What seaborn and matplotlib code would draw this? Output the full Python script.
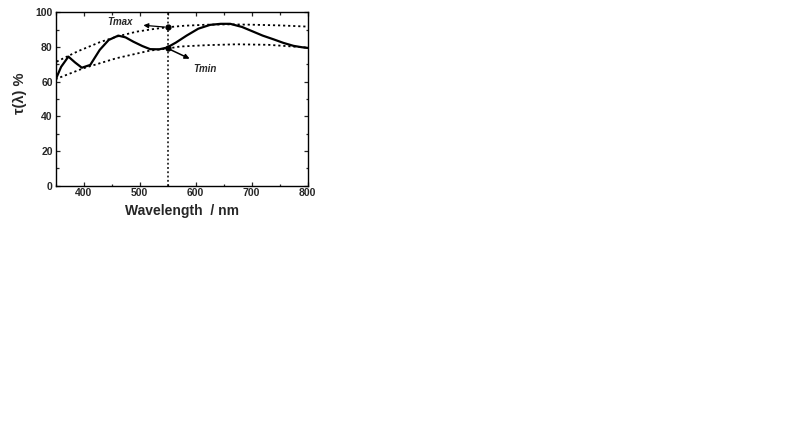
import pandas as pd
import seaborn as sns
import matplotlib
matplotlib.use("Agg")
import matplotlib.pyplot as plt
from matplotlib.ticker import MultipleLocator

sns.set_style("ticks")
plt.rcParams['font.family'] = ['Liberation Sans', 'DejaVu Sans']
plt.rcParams['font.weight'] = 'bold'

# measured transmission spectrum
wl = [350, 360, 373, 385, 397, 412, 429, 445, 462, 475, 489, 505, 519, 535, 549,
      565, 584, 605, 626, 645, 662, 683, 703, 720, 739, 757, 775, 790, 800]
tau = [61.0, 68.5, 74.4, 71.0, 68.0, 69.6, 78.3, 84.0, 86.5, 85.5, 83.0, 80.5, 78.7, 78.6, 79.6,
       82.5, 86.5, 90.5, 92.7, 93.3, 93.3, 91.5, 88.8, 86.5, 84.4, 82.3, 80.6, 79.8, 79.4]

# upper envelope (Tmax)
wl_max = [352, 390, 429, 460, 495, 525, 549, 580, 620, 660, 700, 750, 800]
t_max = [71.5, 77.5, 82.7, 86.0, 88.8, 90.3, 91.3, 92.2, 92.8, 93.0, 92.8, 92.4, 91.7]

# lower envelope (Tmin)
wl_min = [350, 400, 459, 519, 549, 572, 620, 673, 730, 792, 800]
t_min = [61.4, 67.7, 73.5, 77.9, 79.0, 80.2, 81.0, 81.5, 81.2, 79.8, 79.5]

lam0 = 550
tmax0 = 91.3
tmin0 = 79.2

fig = plt.figure(figsize=(8, 4.21), dpi=100)
ax = fig.add_axes([0.0694, 0.559, 0.315, 0.412])

sns.lineplot(x=wl_max, y=t_max, ax=ax, color='black', lw=1.3, linestyle=(0, (1.2, 1.6)))
sns.lineplot(x=wl_min, y=t_min, ax=ax, color='black', lw=1.3, linestyle=(0, (1.2, 1.6)))
sns.lineplot(x=wl, y=tau, ax=ax, color='black', lw=1.6)
ax.axvline(lam0, color='black', lw=1.1, linestyle=(0, (1.2, 1.6)))
ax.plot([lam0, lam0], [tmax0, tmin0], 'o', color='black', ms=3.5)

ax.annotate('', xy=(502, 92.6), xytext=(lam0, tmax0),
            arrowprops=dict(arrowstyle='-|>', color='black', lw=0.9, mutation_scale=7))
ax.text(465, 94.5, 'Tmax', fontsize=7, style='italic', fontweight='bold', ha='center', va='center')
ax.annotate('', xy=(594, 72.5), xytext=(lam0, tmin0),
            arrowprops=dict(arrowstyle='-|>', color='black', lw=1.1, mutation_scale=7))
ax.text(617, 67.5, 'Tmin', fontsize=7, style='italic', fontweight='bold', ha='center', va='center')

ax.set_xlim(350, 800)
ax.set_ylim(0, 100)
ax.xaxis.set_major_locator(MultipleLocator(100))
ax.xaxis.set_minor_locator(MultipleLocator(50))
ax.yaxis.set_major_locator(MultipleLocator(20))
ax.yaxis.set_minor_locator(MultipleLocator(10))
ax.tick_params(which='both', direction='in', top=True, right=True, labelsize=7.5, width=0.9, pad=2)
ax.tick_params(which='major', length=3)
ax.tick_params(which='minor', length=1.8)
for lab in ax.get_xticklabels() + ax.get_yticklabels():
    lab.set_fontweight('bold')
for s in ax.spines.values():
    s.set_linewidth(1.0)
    s.set_color('black')

ax.set_xlabel('Wavelength  / nm', fontsize=10, fontweight='bold', labelpad=4)
ax.set_ylabel('τ(λ) %', fontsize=10.5, fontweight='bold')
ax.yaxis.set_label_coords(-0.112, 0.535)

fig.savefig('out.png', dpi=100)
